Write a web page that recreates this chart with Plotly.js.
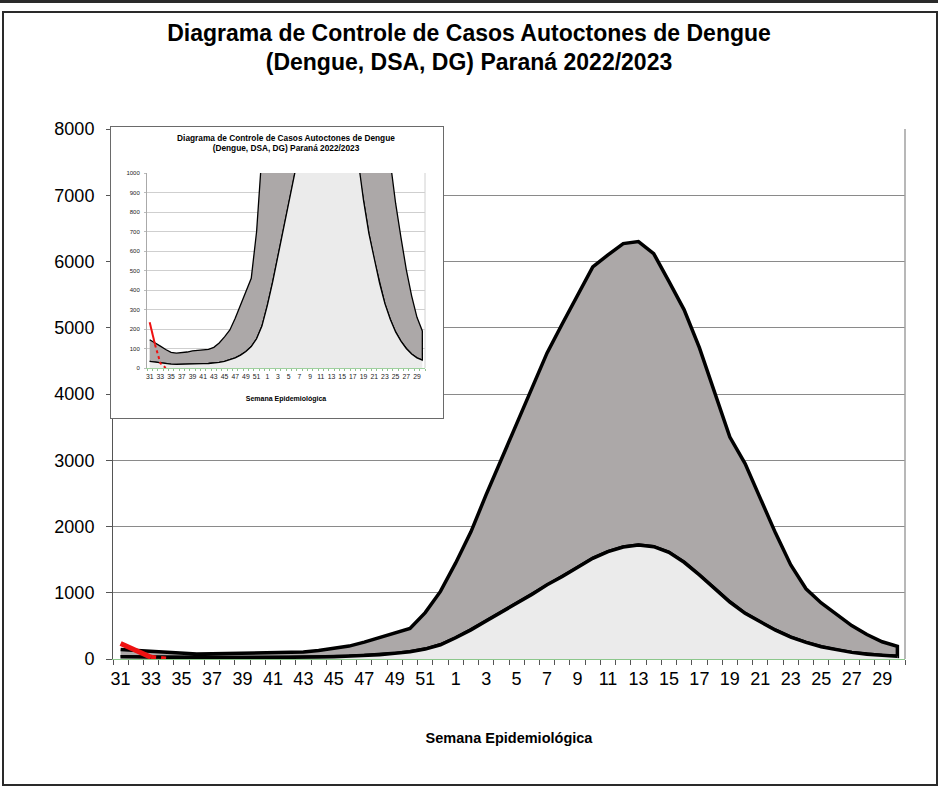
<!DOCTYPE html>
<html>
<head>
<meta charset="utf-8">
<script src="https://cdn.plot.ly/plotly-3.0.1.min.js"></script>
<style>
  body { margin:0; background:#fff; }
  #main { position:absolute; left:0; top:0; width:938px; height:786px; }
  #inset { position:absolute; left:111px; top:127px; width:332px; height:291px; outline:1px solid #6a6a6a; background:#fff; }
  #topbar { position:absolute; left:0; top:0; width:938px; height:3px; background:#2a2a2a; }
  #frame { position:absolute; left:2px; top:11px; width:932px; height:771px; border:2px solid #2a2a2a; pointer-events:none; }
</style>
</head>
<body>
<div id="main"></div>
<div id="inset"></div>
<div id="topbar"></div>
<div id="frame"></div>
<script>
// Semanas epidemiológicas 31/2022 .. 30/2023
const weeks = [31,32,33,34,35,36,37,38,39,40,41,42,43,44,45,46,47,48,49,50,51,52,
               1,2,3,4,5,6,7,8,9,10,11,12,13,14,15,16,17,18,19,20,21,22,23,24,25,26,27,28,29,30];
// Limite superior
const upper = [145,130,112,95,80,76,78,82,88,90,92,96,106,128,160,195,255,325,385,460,700,1020,
               1450,1920,2480,3010,3570,4100,4620,5060,5490,5920,6100,6270,6300,6120,5700,5270,4700,4040,
               3350,2950,2420,1900,1420,1060,845,670,505,370,260,190];
// Média (limite inferior)
const lower = [34,30,26,23,20,19,19,20,20,21,22,23,25,29,34,42,52,66,85,110,150,215,
               320,440,575,715,840,975,1120,1245,1380,1520,1620,1690,1720,1695,1610,1460,1270,1065,
               860,690,555,435,330,250,185,138,100,72,52,40];
// Casos 2022/2023 (semanas 31..34)
const casos = [235,120,25,0];

const idx = weeks.map((w,i)=>i);
const tickIdx = idx.filter(i=>i%2===0);
const tickTxt = tickIdx.map(i=>String(weeks[i]));
const revIdx = idx.slice().reverse();
const revLower = lower.slice().reverse();

const FONT = 'Liberation Sans, Arial, sans-serif';
const TITLE = '<b>Diagrama de Controle de Casos Autoctones de Dengue</b><br><b>(Dengue, DSA, DG) Paraná 2022/2023</b>';

function traces(lw, rw, solidN) {
  return [
    {x: idx.concat(revIdx), y: upper.concat(revLower), type:'scatter', mode:'lines',
     fill:'toself', fillcolor:'#aca8a8', line:{color:'#000', width:lw}, hoverinfo:'skip', showlegend:false},
    {x: idx, y: lower, type:'scatter', mode:'lines', fill:'tozeroy', fillcolor:'#ebebeb',
     line:{color:'#000', width:lw}, showlegend:false},
    {x: idx.slice(0,solidN), y: casos.slice(0,solidN), type:'scatter', mode:'lines',
     line:{color:'#ee1111', width:rw}, showlegend:false},
    {x: idx.slice(solidN-1,casos.length), y: casos.slice(solidN-1), type:'scatter', mode:'lines',
     line:{color:'#ee1111', width:rw, dash:'dot'}, showlegend:false}
  ];
}

const mainLayout = {
  width:938, height:786,
  margin:{l:113, r:33, t:129, b:127},
  paper_bgcolor:'#fff', plot_bgcolor:'#fff',
  font:{family:FONT, color:'#000'},
  title:{text:TITLE, font:{family:FONT, size:23, color:'#000'}, x:0.5, xref:'container', xanchor:'center',
         y:1-40.5/786, yref:'container', yanchor:'middle'},
  xaxis:{range:[-0.5,51.5], tickmode:'array', tickvals:tickIdx, ticktext:tickTxt, ticks:'',
         showline:true, linecolor:'#8cc78c', linewidth:1, showgrid:false, zeroline:false,
         tickfont:{family:FONT, size:18, color:'#000'}, ticklabelstandoff:3,
         minor:{tickmode:'linear', tick0:-0.5, dtick:1, ticks:'outside', ticklen:5, tickcolor:'#555', tickwidth:1, showgrid:false},
         title:{text:'<b>Semana Epidemiológica</b>', font:{family:FONT, size:14.5, color:'#000'}, standoff:45},
         automargin:false, fixedrange:true},
  yaxis:{range:[0,8000], dtick:1000, tick0:0, ticks:'outside', ticklen:6, tickcolor:'#555',
         showline:true, linecolor:'#555', linewidth:1, gridcolor:'#8a8a8a', gridwidth:1, zeroline:false,
         tickfont:{family:FONT, size:18, color:'#000'}, ticklabelstandoff:8, automargin:false, fixedrange:true},
  shapes:[{type:'line', xref:'paper', yref:'paper', x0:1, x1:1, y0:0, y1:1, line:{color:'#a0a0a0', width:1.5}}]
};

Plotly.newPlot('main', traces(3.5, 5, 3), mainLayout, {staticPlot:true, displayModeBar:false});

const insetLayout = {
  width:332, height:291,
  margin:{l:36, r:18, t:46, b:50},
  paper_bgcolor:'#fff', plot_bgcolor:'#fff',
  font:{family:FONT, color:'#000'},
  title:{text:TITLE, font:{family:FONT, size:8.3, color:'#000'}, x:0.5, xref:'paper', xanchor:'center',
         y:1-13.6/291, yref:'container', yanchor:'middle'},
  xaxis:{range:[-0.5,51.5], tickmode:'array', tickvals:tickIdx, ticktext:tickTxt, ticks:'',
         showline:true, linecolor:'#9fd09f', linewidth:1, showgrid:false, zeroline:false,
         tickfont:{family:FONT, size:6.8, color:'#222'}, ticklabelstandoff:2,
         minor:{tickmode:'linear', tick0:-0.5, dtick:1, ticks:'outside', ticklen:2, tickcolor:'#8fc08f', tickwidth:1, showgrid:false},
         title:{text:'<b>Semana Epidemiológica</b>', font:{family:FONT, size:7, color:'#000'}, standoff:16},
         automargin:false},
  yaxis:{range:[0,1000], dtick:100, tick0:0, ticks:'outside', ticklen:2, tickcolor:'#bbb',
         showline:true, linecolor:'#aaa', linewidth:1, gridcolor:'#cfcfcf', gridwidth:1, zeroline:false,
         tickfont:{family:FONT, size:6, color:'#222'}, ticklabelstandoff:3, automargin:false},
  shapes:[{type:'line', xref:'paper', yref:'paper', x0:1, x1:1, y0:0, y1:1, line:{color:'#d0d0d0', width:1}}]
};

Plotly.newPlot('inset', traces(1.3, 2, 2), insetLayout, {staticPlot:true, displayModeBar:false});
</script>
</body>
</html>
